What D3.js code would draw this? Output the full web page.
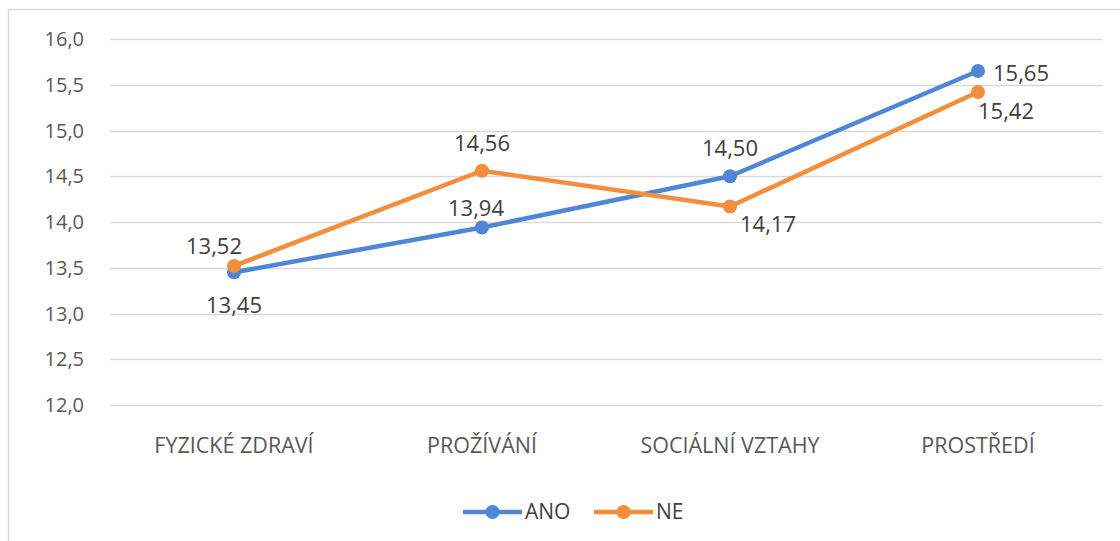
<!DOCTYPE html>
<html>
<head>
<meta charset="utf-8">
<script src="https://cdn.jsdelivr.net/npm/d3@7"></script>
<style>
body { margin: 0; background: #fff; }
svg { display: block; font-family: "Open Sans", Lato, sans-serif; }
</style>
</head>
<body>
<svg width="1120" height="541"></svg>
<script>
var categories = ["FYZICKÉ ZDRAVÍ", "PROŽÍVÁNÍ", "SOCIÁLNÍ VZTAHY", "PROSTŘEDÍ"];
var ano = [13.45, 13.94, 14.50, 15.65];
var ne = [13.52, 14.56, 14.17, 15.42];
var yTicks = [12.0, 12.5, 13.0, 13.5, 14.0, 14.5, 15.0, 15.5, 16.0];
var seriesNames = ["ANO", "NE"];
var colours = ["#4f86d6", "#f28e3c"];
// label offsets (dx, dy) relative to each point
var anoLabelPos = [[0, 33], [-6, -19], [0, -28], [43, 2]];
var neLabelPos = [[-20, -20], [0, -27], [38, 18], [28, 19]];

var svg = d3.select("svg");
var fmt = function(v, d) { return v.toFixed(d).replace(".", ","); };

// outer frame
svg.append("rect").attr("x", 8.5).attr("y", 9.5).attr("width", 1130).attr("height", 560)
	.attr("fill", "none").attr("stroke", "#d9d9d9").attr("stroke-width", 1.5);

var x = d3.scaleBand().domain(categories).range([110, 1102]);
var y = d3.scaleLinear().domain([12, 16]).range([405, 39]);

// gridlines
svg.append("g").selectAll("line").data(yTicks).enter().append("line")
	.attr("x1", 110).attr("x2", 1102)
	.attr("y1", function(d) { return Math.round(y(d)) + 0.5; })
	.attr("y2", function(d) { return Math.round(y(d)) + 0.5; })
	.attr("stroke", "#d9d9d9").attr("stroke-width", 1.5);

// y labels
svg.append("g").selectAll("text").data(yTicks).enter().append("text")
	.attr("x", 84).attr("y", function(d) { return y(d); })
	.attr("dy", "0.35em").attr("text-anchor", "end")
	.attr("font-size", 20).attr("fill", "#595959")
	.text(function(d) { return fmt(d, 1); });

// category labels
svg.append("g").selectAll("text").data(categories).enter().append("text")
	.attr("x", function(d) { return x(d) + x.bandwidth() / 2; })
	.attr("y", 445).attr("dy", "0.35em").attr("text-anchor", "middle")
	.attr("font-size", 21.5).attr("fill", "#595959")
	.text(function(d) { return d; });

var line = d3.line()
	.x(function(d, i) { return x(categories[i]) + x.bandwidth() / 2; })
	.y(function(d) { return y(d); });

var series = [ano, ne];
var labelPos = [anoLabelPos, neLabelPos];
series.forEach(function(vals, s) {
	var g = svg.append("g");
	g.append("path").datum(vals).attr("d", line)
		.attr("fill", "none").attr("stroke", colours[s]).attr("stroke-width", 4.5)
		.attr("stroke-linejoin", "round");
	g.selectAll("circle").data(vals).enter().append("circle")
		.attr("cx", function(d, i) { return x(categories[i]) + x.bandwidth() / 2; })
		.attr("cy", function(d) { return y(d); })
		.attr("r", 7).attr("fill", colours[s]);
});
series.forEach(function(vals, s) {
	svg.append("g").selectAll("text").data(vals).enter().append("text")
		.attr("x", function(d, i) { return x(categories[i]) + x.bandwidth() / 2 + labelPos[s][i][0]; })
		.attr("y", function(d, i) { return y(d) + labelPos[s][i][1]; })
		.attr("dy", "0.35em").attr("text-anchor", "middle")
		.attr("font-size", 22).attr("fill", "#404040")
		.text(function(d) { return fmt(d, 2); });
});

// legend
var legend = svg.append("g");
var legX = [463, 594];
seriesNames.forEach(function(n, s) {
	var lg = legend.append("g").attr("transform", "translate(" + legX[s] + ",512)");
	lg.append("line").attr("x1", 0).attr("x2", 59).attr("stroke", colours[s]).attr("stroke-width", 4.5);
	lg.append("circle").attr("cx", 29.5).attr("r", 7).attr("fill", colours[s]);
	lg.append("text").attr("x", 62).attr("dy", "0.35em").attr("font-size", 21)
		.attr("fill", "#404040").text(n);
});
</script>
</body>
</html>
